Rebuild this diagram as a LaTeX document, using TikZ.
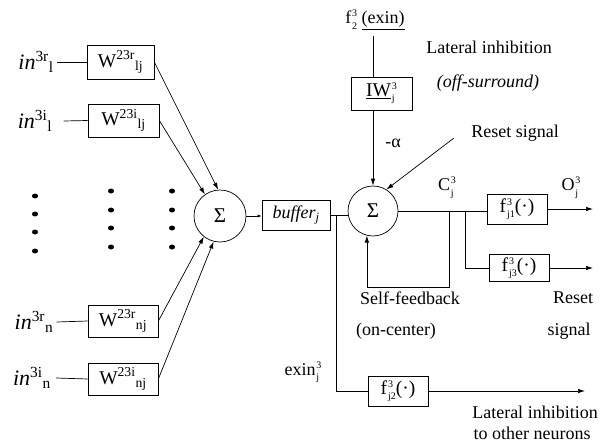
\documentclass[tikz,border=0pt]{standalone}
\usepackage{fontspec}
\setmainfont{Liberation Serif}
\usetikzlibrary{arrows.meta}
\newcommand\stk[2]{\kern0.8pt\begingroup\fontsize{10}{12.5}\selectfont\raisebox{-5.5pt}{\vbox{\hbox{#1}\hbox{#2}}}\endgroup}
\begin{document}
\begin{tikzpicture}[x=1pt,y=-1pt,line width=0.7pt,
  box/.style={draw,inner sep=0pt,font=\fontsize{19.5}{22}\selectfont},
  sumnode/.style={draw,circle,inner sep=0pt,font=\fontsize{21}{24}\selectfont},
  lbl/.style={inner sep=0pt,font=\fontsize{18}{21}\selectfont},
  inl/.style={inner sep=3pt,font=\fontsize{22}{24}\selectfont},
  arr/.style={-{Latex[length=7pt,width=4.5pt]}},
  dot/.style={fill=black}]
\useasboundingbox (0,0) rectangle (602,444);
% input weight boxes
\node[box,minimum width=67pt,minimum height=34pt] (W1r) at (120.5,62) {W\textsuperscript{23r}\textsubscript{lj}};
\node[box,minimum width=71pt,minimum height=33pt] (W1i) at (123.5,120.5) {W\textsuperscript{23i}\textsubscript{lj}};
\node[box,minimum width=70pt,minimum height=32pt] (Wnr) at (123,321) {W\textsuperscript{23r}\textsubscript{nj}};
\node[box,minimum width=70pt,minimum height=32pt] (Wni) at (123,379) {W\textsuperscript{23i}\textsubscript{nj}};
% input labels
\node[inl] (in1r) at (36,62) {\textit{in}\textsuperscript{3r}\textsubscript{l}};
\node[inl] (in1i) at (35,121) {\textit{in}\textsuperscript{3i}\textsubscript{l}};
\node[inl] (innr) at (34,322) {\textit{in}\textsuperscript{3r}\textsubscript{n}};
\node[inl] (inni) at (32,378) {\textit{in}\textsuperscript{3i}\textsubscript{n}};
\draw (in1r.east) -- (W1r.west);
\draw ([xshift=8pt]in1i.east) -- (W1i.west);
\draw (innr.east) -- (Wnr.west);
\draw ([xshift=2pt]inni.east) -- (Wni.west);
% dots
\foreach \y in {196,214,232,251} \fill (35,\y) ellipse (3pt and 2.5pt);
\foreach \y in {191,210,228,247} {\fill (111,\y) ellipse (3pt and 2.5pt); \fill (172,\y) ellipse (3pt and 2.5pt);}
% first summation
\node[sumnode,minimum size=52pt] (s1) at (220,216) {Σ};
\draw[arr] (W1r.east) -- (s1.94);
\draw[arr] (W1i.east) -- (s1.125);
\draw[arr] (Wnr.east) -- (s1.232);
\draw[arr] (Wni.east) -- (s1.256);
% buffer
\node[box,minimum width=68pt,minimum height=30pt,font=\fontsize{18}{20}\selectfont\itshape] (buf) at (296,215) {buffer\textsubscript{j}};
\draw[-{Latex[length=4pt,width=3pt]}] (s1.east) -- (s1.east -| buf.west);
% second summation
\node[sumnode,minimum size=50pt] (s2) at (373,211) {Σ};
\draw (buf.east) -- (buf.east -| s2.west);
% exin branch
\coordinate (b1) at (336,215);
\node[box,minimum width=60pt,minimum height=30pt] (fj2) at (398,391) {f\stk{3}{j2}(\textperiodcentered)};
\draw (b1) |- (fj2.west);
\coordinate (o2) at (585,391);
\draw[arr] (fj2.east) -- (o2);
\node[lbl] (exin) at (303,372) {exin\stk{3}{j}};
% top inhibition
\node[lbl] (f2) at (375,20) {f\stk{3}{2} \underline{(exin)}};
\node[box,minimum width=61pt,minimum height=33pt] (IW) at (381.5,93.5) {\underline{IW}\stk{3}{j}};
\coordinate (t1) at (373,36);
\draw (t1) -- (t1 |- IW.north);
\draw[arr] (s2.north |- IW.south) -- (s2.north);
\node[lbl] (alpha) at (393,143) {-α};
\node[lbl] (li1) at (489,47) {Lateral inhibition};
\node[lbl] (os) at (488,83) {\textit{(off-surround)}};
\node[lbl] (rsl) at (515,133) {Reset signal};
\coordinate (rs) at (454,138);
\draw[arr] (rs) -- (s2.58);
% outputs
\node[box,minimum width=60pt,minimum height=30pt] (fj1) at (517,209) {f\stk{3}{j1}(\textperiodcentered)};
\node[box,minimum width=60pt,minimum height=27pt] (fj3) at (519,268) {f\stk{3}{j3}(\textperiodcentered)};
\draw (s2.east) -- (s2.east -| fj1.west);
\coordinate (fbA) at (449,211);
\coordinate (fbB) at (449,287);
\draw[arr] (fbA) -- (fbB) -| (s2.256);
\coordinate (bj3) at (465,211);
\draw (bj3) |- (fj3.west);
\coordinate (o1) at (593,209);
\coordinate (o3) at (593,268);
\draw[arr] (fj1.east) -- (o1);
\draw[arr] (fj3.east) -- (o3);
\node[lbl] (C) at (447,188) {C\stk{3}{j}};
\node[lbl] (O) at (571,188) {O\stk{3}{j}};
\node[lbl] (sf) at (410,298) {Self-feedback};
\node[lbl] (oc) at (396,331) {(on-center)};
\node[lbl] (rs1) at (573,298) {Reset};
\node[lbl] (rs2) at (569,331) {signal};
\node[lbl] (li2) at (535,412) {Lateral inhibition};
\node[lbl] (ton) at (532,433) {to other neurons};
\end{tikzpicture}
\end{document}
